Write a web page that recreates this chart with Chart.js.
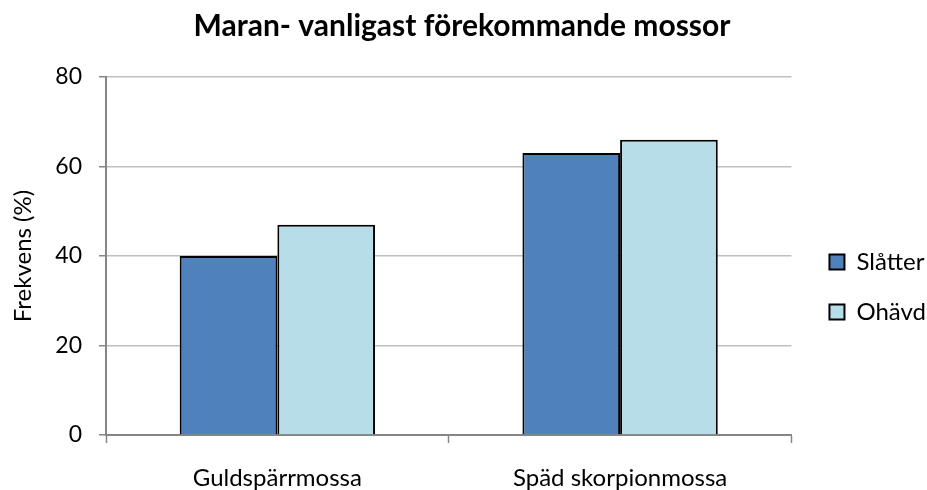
<!DOCTYPE html>
<html>
<head>
<meta charset="utf-8">
<script src="https://cdn.jsdelivr.net/npm/chart.js@4"></script>
<style>
  html, body { margin: 0; padding: 0; background: #fff; }
  #wrap { width: 927px; height: 490px; }
</style>
</head>
<body>
<div id="wrap"><canvas id="mossChart" width="927" height="490"></canvas></div>
<script>
// Categories and series
const categories = ["Guldspärrmossa", "Späd skorpionmossa"];
const slatter = [40, 63];
const ohavd = [47, 66];
const yTicks = [0, 20, 40, 60, 80];

const FONT = 'Lato, "Noto Sans", sans-serif';

// push the legend items a bit further away from the plot
const legendGap = {
    id: 'legendGap',
    afterLayout(chart) {
        const legend = chart.legend;
        if (legend) {
            legend.left += 12;
            legend.right += 12;
        }
    }
};

const ctx = document.getElementById('mossChart').getContext('2d');
const mossChart = new Chart(ctx, {
    type: 'bar',
    data: {
        labels: categories,
        datasets: [
            {
                label: 'Slåtter',
                data: slatter,
                backgroundColor: '#4F81BD',
                borderColor: '#000000',
                borderWidth: 2,
            },
            {
                label: 'Ohävd',
                data: ohavd,
                backgroundColor: '#B7DEE8',
                borderColor: '#000000',
                borderWidth: 2,
            }
        ],
    },
    options: {
        responsive: false,
        animation: false,
        layout: {
            padding: { left: 0, right: 3, top: 0, bottom: 0 }
        },
        datasets: {
            bar: {
                barPercentage: 1.0,
                categoryPercentage: 0.57,
            }
        },
        plugins: {
            title: {
                display: true,
                text: 'Maran- vanligast förekommande mossor',
                color: '#000',
                font: { family: FONT, size: 30, weight: 'bold' },
                padding: { top: 8, bottom: 33 },
            },
            legend: {
                position: 'right',
                title: {
                    display: true,
                    text: ' ',
                    font: { size: 10 },
                    padding: { top: 0, bottom: 72 },
                },
                labels: {
                    color: '#000',
                    font: { family: FONT, size: 24 },
                    boxWidth: 15,
                    boxHeight: 15,
                    padding: 26,
                },
            },
            tooltip: { enabled: false },
        },
        scales: {
            x: {
                afterFit: (scale) => { scale.height = 55; },
                grid: {
                    drawOnChartArea: false,
                    offset: true,
                    tickLength: 8,
                    tickColor: '#868686',
                    tickWidth: 1.5,
                },
                border: { color: '#868686', width: 2 },
                ticks: {
                    color: '#000',
                    font: { family: FONT, size: 24 },
                    padding: 21,
                },
            },
            y: {
                min: 0,
                max: 80,
                afterFit: (scale) => { scale.width = 106; },
                afterBuildTicks: (axis) => {
                    axis.ticks = yTicks.map(v => ({ value: v }));
                },
                grid: {
                    color: '#BFBFBF',
                    lineWidth: 1.5,
                    tickLength: 7,
                    tickColor: '#868686',
                    tickWidth: 1.5,
                },
                border: { color: '#868686', width: 2 },
                ticks: {
                    color: '#000',
                    font: { family: FONT, size: 23 },
                    padding: 17,
                },
                title: {
                    display: true,
                    text: 'Frekvens (%)',
                    color: '#000',
                    font: { family: FONT, size: 24 },
                    padding: { top: 9, bottom: 4 },
                },
            },
        },
    },
    plugins: [legendGap],
});
</script>
</body>
</html>
